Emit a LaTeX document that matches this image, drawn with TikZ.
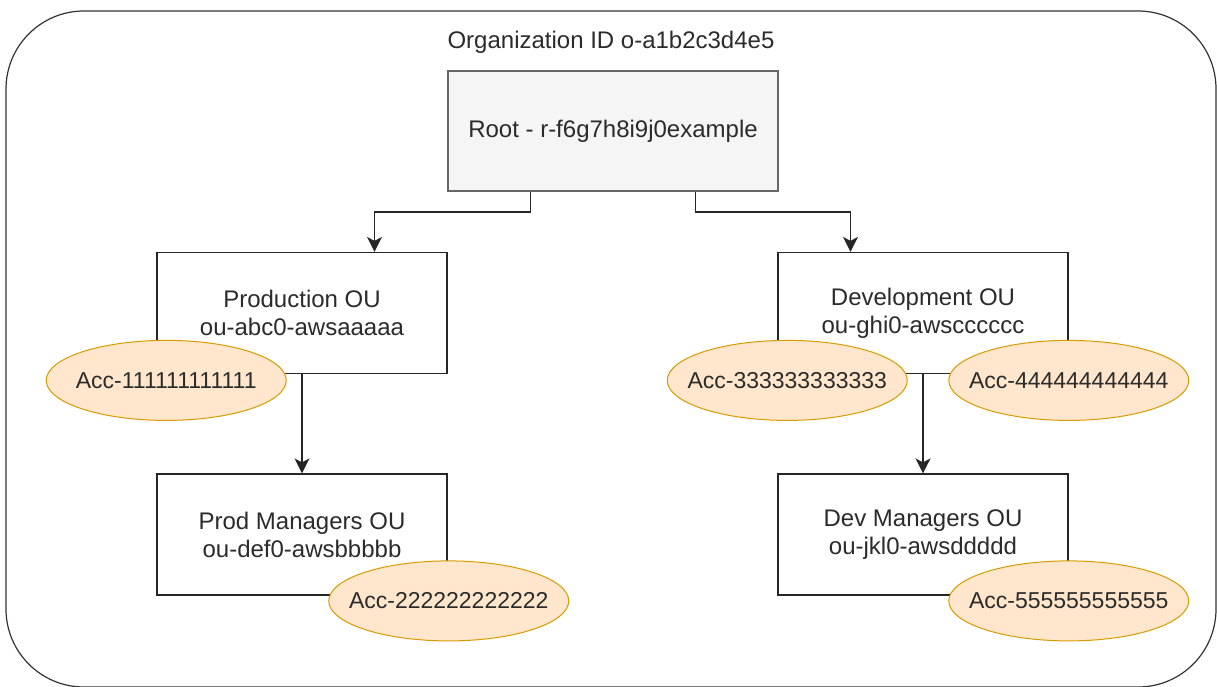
\documentclass[tikz,border=0pt]{standalone}
\usepackage{fontspec}
\setmainfont{Liberation Sans}
\usetikzlibrary{positioning,shapes.geometric,arrows.meta}
\definecolor{textgray}{HTML}{2B2B2B}
\definecolor{rootfill}{HTML}{F5F5F5}
\definecolor{rootdraw}{HTML}{666666}
\definecolor{accfill}{HTML}{FFE6CC}
\definecolor{accdraw}{HTML}{D79B00}

\begin{document}
\begin{tikzpicture}[
    x=1pt, y=1pt,
    orgframe/.style={rectangle, draw=black!80, line width=1.2pt, rounded corners=78pt, minimum width=1210pt, minimum height=676pt},
    rootbox/.style={rectangle, draw=rootdraw, fill=rootfill, line width=1.5pt, minimum width=330pt, minimum height=120pt, font=\fontsize{24}{28}\selectfont, text=textgray},
    oubox/.style={rectangle, draw=black!85, fill=white, line width=1.5pt, minimum width=290pt, minimum height=121pt, align=center, font=\fontsize{24}{28}\selectfont, text=textgray},
    account/.style={ellipse, draw=accdraw, fill=accfill, line width=1pt, minimum width=240pt, minimum height=80pt, inner xsep=-35pt, inner ysep=0pt, font=\fontsize{23}{28}\selectfont, text=textgray},
    arrow/.style={-{Stealth[length=15pt,width=15pt,inset=4pt]}, line width=1.5pt, black!85}
]
\useasboundingbox (0,0) rectangle (1217,-687);

\node[orgframe] (org) at (611,-349) {};
\node[inner sep=0pt, below=21pt of org.north, font=\fontsize{24}{28}\selectfont, text=textgray] (orgid) {Organization ID o-a1b2c3d4e5};

\node[rootbox, below=60pt of org.north, xshift=2pt] (root) {Root - r-f6g7h8i9j0example};
\node[oubox, below=60pt of root, xshift=-311pt] (prod) {Production OU\\ou-abc0-awsaaaaa};
\node[oubox, below=60pt of root, xshift=310pt] (dev) {Development OU\\ou-ghi0-awscccccc};
\node[oubox, below=99pt of prod] (prodmgr) {Prod Managers OU\\ou-def0-awsbbbbb};
\node[oubox, below=99pt of dev] (devmgr) {Dev Managers OU\\ou-jkl0-awsddddd};

\draw[arrow] ([xshift=-82.5pt]root.south) -- ++(0,-20) -| ([xshift=72.5pt]prod.north);
\draw[arrow] ([xshift=82.5pt]root.south) -- ++(0,-20) -| ([xshift=-72.5pt]dev.north);
\draw[arrow] (prod) -- (prodmgr);
\draw[arrow] (dev) -- (devmgr);

% account ellipses sit on the box corners
\node[account] (acc1) at ([shift={(10,-6)}]prod.south west) {Acc-111111111111};
\node[account] (acc2) at ([shift={(1,-5)}]prodmgr.south east) {Acc-222222222222};
\node[account] (acc3) at ([shift={(10,-6)}]dev.south west) {Acc-333333333333};
\node[account] (acc4) at ([shift={(0,-6)}]dev.south east) {Acc-444444444444};
\node[account] (acc5) at ([shift={(0,-5)}]devmgr.south east) {Acc-555555555555};

\end{tikzpicture}
\end{document}
